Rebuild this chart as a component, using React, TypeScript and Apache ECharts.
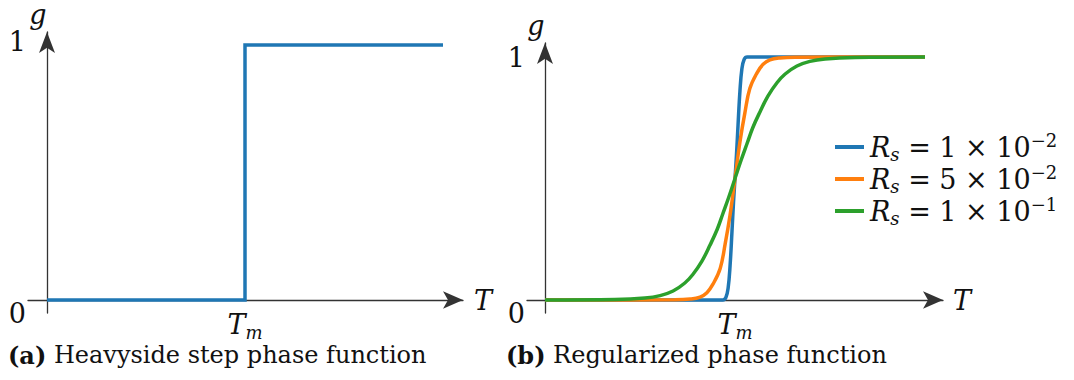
import React, { useEffect, useRef } from "react";
import * as echarts from "echarts";

// Panel (a): ideal Heaviside step, g(T) jumps from 0 to 1 at T = Tm
const stepT = [0, 0.5, 0.5, 1];
const stepG = [0, 0, 1, 1];

// Panel (b): regularized phase functions for three smoothing radii
const blueT = [0, 0.44, 0.468, 0.476, 0.482, 0.487, 0.492, 0.496, 0.5, 0.504, 0.508, 0.513, 0.518, 0.524, 0.532, 0.56, 1];
const blueG = [0, 0, 0, 0.01, 0.05, 0.14, 0.28, 0.4, 0.5, 0.6, 0.72, 0.86, 0.95, 0.99, 1, 1, 1];

const orangeT = [0, 0.342, 0.382, 0.408, 0.426, 0.442, 0.461, 0.474, 0.487, 0.5, 0.513, 0.526, 0.539, 0.558, 0.574, 0.592, 0.618, 0.658, 1];
const orangeG = [0, 0.001, 0.004, 0.012, 0.03, 0.065, 0.13, 0.23, 0.35, 0.5, 0.65, 0.77, 0.87, 0.935, 0.97, 0.988, 0.996, 0.999, 1];

const greenT = [0, 0.184, 0.263, 0.303, 0.337, 0.368, 0.389, 0.413, 0.434, 0.453, 0.468, 0.484, 0.5, 0.516, 0.532, 0.547, 0.566, 0.587, 0.611, 0.632, 0.663, 0.697, 0.737, 0.816, 1];
const greenG = [0, 0.002, 0.008, 0.018, 0.037, 0.07, 0.105, 0.16, 0.225, 0.29, 0.355, 0.425, 0.5, 0.575, 0.645, 0.71, 0.775, 0.84, 0.895, 0.93, 0.963, 0.982, 0.992, 0.998, 1];

const seriesNames = ["Rs-1e-2", "Rs-5e-2", "Rs-1e-1"];
const legendCoef = ["1", "5", "1"];
const legendExp = ["2", "2", "1"];

const colors = ["#1f77b4", "#ff7f0e", "#2ca02c"];
const yTicks = [0, 1];
const xTicks = [0.5];

const SERIF = "'DejaVu Serif', 'Liberation Serif', serif";
const AXIS_COLOR = "#333";
const INK = "#111";

const zip = (t: number[], g: number[]) => t.map((v, i) => [v, g[i]]);

export default function App() {
  const ref = useRef<HTMLDivElement>(null);

  useEffect(() => {
    if (!ref.current) return;
    const chart = echarts.init(ref.current, null, { renderer: "svg" });

    const axisLine = (arrowLen: number, arrowW: number) => ({
      onZero: true,
      symbol: ["none", "arrow"],
      symbolSize: [arrowW, arrowLen],
      lineStyle: { color: AXIS_COLOR, width: 1.3 },
    });

    const xAxisCommon = (min: number, max: number, gridIndex: number, nameGap: number) => ({
      type: "value",
      gridIndex,
      min,
      max,
      axisLine: axisLine(20, 13),
      axisTick: { show: false },
      splitLine: { show: false },
      name: "T",
      nameLocation: "end",
      nameGap,
      nameTextStyle: { fontFamily: SERIF, fontStyle: "italic", fontSize: 27, color: INK, padding: [0, 0, 20, 0] },
      axisLabel: {
        customValues: xTicks,
        margin: -2,
        formatter: () => "{t|T}{m|m}",
        rich: {
          t: { fontFamily: SERIF, fontStyle: "italic", fontSize: 27, color: INK, lineHeight: 30, verticalAlign: "top" },
          m: { fontFamily: SERIF, fontStyle: "italic", fontSize: 18, color: INK, lineHeight: 30, verticalAlign: "bottom", padding: [10, 0, 0, 0] },
        },
      },
    });

    const yAxisCommon = (min: number, max: number, gridIndex: number, oneShift: number) => ({
      type: "value",
      gridIndex,
      min,
      max,
      axisLine: axisLine(21, 12),
      axisTick: { show: false },
      splitLine: { show: false },
      name: "g",
      nameLocation: "end",
      nameGap: 4,
      nameTextStyle: { fontFamily: SERIF, fontStyle: "italic", fontSize: 27, color: INK, padding: [0, 18, 0, 0] },
      axisLabel: {
        customValues: yTicks,
        margin: 2,
        formatter: (v: number) => (v === 0 ? "{lo|0}" : "{hi|1}"),
        rich: {
          lo: { fontFamily: SERIF, fontSize: 27, color: INK, padding: [26, 0, 0, 0] },
          hi: { fontFamily: SERIF, fontSize: 27, color: INK, padding: oneShift > 0 ? [0, 0, oneShift, 0] : [0, 0, 0, 0] },
        },
      },
    });

    const curve = (name: string, t: number[], g: number[], color: string) => ({
      name,
      type: "line",
      xAxisIndex: 1,
      yAxisIndex: 1,
      data: zip(t, g),
      showSymbol: false,
      smooth: 0.4,
      lineStyle: { color, width: 3.5 },
      itemStyle: { color },
    });

    chart.setOption({
      animation: false,
      backgroundColor: "#fff",
      grid: [
        { left: 28, top: 32, width: 435, height: 281, outerBoundsMode: "none", containLabel: false },
        { left: 527, top: 43, width: 416, height: 270, outerBoundsMode: "none", containLabel: false },
      ],
      // pixel spans: panel (a) 396 px per unit of T, 255 px per unit of g; panel (b) 380 and 243
      xAxis: [xAxisCommon(-19 / 396, 416 / 396, 0, 11), xAxisCommon(-18 / 380, 398 / 380, 1, 10)],
      yAxis: [yAxisCommon(-13 / 255, 268 / 255, 0, 8), yAxisCommon(-13 / 243, 257 / 243, 1, 0)],
      legend: {
        orient: "vertical",
        left: 830,
        top: 126,
        data: seriesNames,
        icon: "rect",
        itemWidth: 29,
        itemHeight: 4,
        itemGap: 0,
        selectedMode: false,
        formatter: (name: string) => {
          const i = seriesNames.indexOf(name);
          return `{r|R}{s|s}{n| = ${legendCoef[i]} × 10}{e|−${legendExp[i]}}`;
        },
        textStyle: {
          padding: [0, 0, 0, 1],
          rich: {
            r: { fontFamily: SERIF, fontStyle: "italic", fontSize: 27, color: INK, lineHeight: 32 },
            s: { fontFamily: SERIF, fontStyle: "italic", fontSize: 18, color: INK, verticalAlign: "bottom", lineHeight: 32 },
            n: { fontFamily: SERIF, fontSize: 27, color: INK, lineHeight: 32 },
            e: { fontFamily: SERIF, fontSize: 18, color: INK, verticalAlign: "top", lineHeight: 32 },
          },
        },
      },
      graphic: [
        {
          type: "text",
          left: 8,
          top: 343,
          style: {
            text: "{b|(a)} Heavyside step phase function",
            fontFamily: SERIF,
            fontSize: 24,
            fill: INK,
            rich: { b: { fontFamily: SERIF, fontSize: 24, fontWeight: "bold", fill: INK } },
          },
        },
        {
          type: "text",
          left: 506,
          top: 343,
          style: {
            text: "{b|(b)} Regularized phase function",
            fontFamily: SERIF,
            fontSize: 24,
            fill: INK,
            rich: { b: { fontFamily: SERIF, fontSize: 24, fontWeight: "bold", fill: INK } },
          },
        },
      ],
      series: [
        {
          name: "step",
          type: "line",
          xAxisIndex: 0,
          yAxisIndex: 0,
          data: zip(stepT, stepG),
          showSymbol: false,
          lineStyle: { color: colors[0], width: 3.5, join: "miter" },
        },
        curve(seriesNames[0], blueT, blueG, colors[0]),
        curve(seriesNames[1], orangeT, orangeG, colors[1]),
        curve(seriesNames[2], greenT, greenG, colors[2]),
      ],
    });

    return () => chart.dispose();
  }, []);

  return <div ref={ref} style={{ position: "fixed", left: 0, top: 0, width: 1074, height: 380 }} />;
}
